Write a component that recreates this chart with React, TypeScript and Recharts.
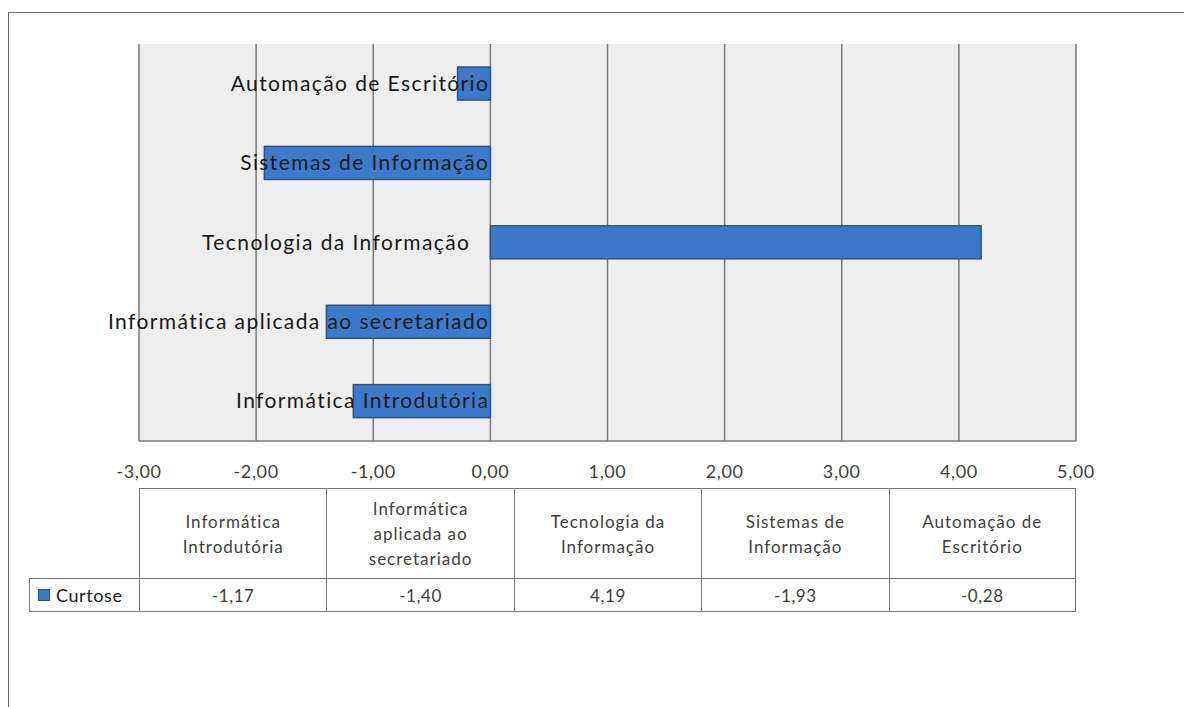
import React from 'react';
import { BarChart, Bar, XAxis, YAxis, CartesianGrid } from 'recharts';

const categories = [
  'Informática Introdutória',
  'Informática aplicada ao secretariado',
  'Tecnologia da Informação',
  'Sistemas de Informação',
  'Automação de Escritório',
];
const headerLines = [
  ['Informática', 'Introdutória'],
  ['Informática', 'aplicada ao', 'secretariado'],
  ['Tecnologia da', 'Informação'],
  ['Sistemas de', 'Informação'],
  ['Automação de', 'Escritório'],
];
const curtose = [-1.17, -1.4, 4.19, -1.93, -0.28];
const xTicks = [-3, -2, -1, 0, 1, 2, 3, 4, 5];
const seriesName = 'Curtose';

const data = categories.map((name, i) => ({ name, value: curtose[i] }));
const fmt = (v: number) => v.toFixed(2).replace('.', ',');

const W = 1184;
const H = 480;
const margin = { top: 36, right: 116, bottom: 7, left: 131 };
const BAR_FILL = '#3b7acb';
const BAR_STROKE = '#2b5286';
const GRID = '#7a7a7a';
const TEXT = '#404040';
const FONT = 'Lato, "Open Sans", sans-serif';

const BarWithLabel = (p: any) => {
  const { x, y, width, height, payload } = p;
  const left = Math.min(x, x + width);
  const w = Math.abs(width);
  const zero = payload.value >= 0 ? left : left + w;
  const labelX = payload.value >= 0 ? zero - 20 : zero - 1;
  return (
    <g>
      <rect x={left} y={y} width={w} height={height} fill={BAR_FILL} stroke={BAR_STROKE} strokeWidth={1.5} />
      <text
        x={labelX}
        y={y + height / 2}
        dy="0.35em"
        textAnchor="end"
        fontFamily={FONT}
        fontSize={21}
        letterSpacing={1.4}
        fill="#1a1a1a"
      >
        {payload.name}
      </text>
    </g>
  );
};

export default function App() {
  const plotLeft = margin.left;
  const plotW = W - margin.left - margin.right;
  const colW = plotW / categories.length;
  const tableTop = 480;
  const headerH = 90;
  const rowH = 34;
  const legendLeft = 21;
  const border = `1.5px solid ${GRID}`;

  return (
    <div style={{ position: 'relative', width: W, height: 699, fontFamily: FONT, overflow: 'hidden' }}>
      <div
        style={{
          position: 'absolute',
          left: 0,
          top: 4,
          width: W + 10,
          height: 720,
          borderLeft: '1.5px solid #6a6a6a',
          borderTop: '1.5px solid #6a6a6a',
          boxSizing: 'border-box',
        }}
      />
      <div style={{ position: 'absolute', left: 0, top: 0 }}>
        <BarChart width={W} height={H} data={data} layout="vertical" margin={margin} barCategoryGap="29%">
          <CartesianGrid horizontal={false} vertical={true} stroke={GRID} strokeWidth={1.5} fill="#eeeeee" fillOpacity={1} />
          <XAxis
            type="number"
            domain={[-3, 5]}
            ticks={xTicks}
            tickFormatter={fmt}
            height={40}
            axisLine={{ stroke: GRID, strokeWidth: 1.5 }}
            tickLine={false}
            tickMargin={18}
            tick={{ fill: TEXT, fontSize: 18, fontFamily: FONT, letterSpacing: 0.6 }}
            interval={0}
          />
          <YAxis type="category" dataKey="name" reversed hide width={0} />
          <Bar dataKey="value" name={seriesName} isAnimationActive={false} shape={BarWithLabel} />
        </BarChart>
      </div>

      {/* data table */}
      {headerLines.map((lines, i) => (
        <div
          key={'h' + i}
          style={{
            position: 'absolute',
            left: plotLeft + i * colW,
            top: tableTop,
            width: colW,
            height: headerH,
            borderLeft: border,
            borderTop: border,
            borderRight: i === headerLines.length - 1 ? border : undefined,
            boxSizing: 'border-box',
            display: 'flex',
            flexDirection: 'column',
            justifyContent: 'center',
            alignItems: 'center',
            color: TEXT,
            fontSize: 17,
            lineHeight: '25px',
            letterSpacing: 1,
          }}
        >
          {lines.map((l, j) => (
            <div key={j}>{l}</div>
          ))}
        </div>
      ))}
      <div
        style={{
          position: 'absolute',
          left: legendLeft,
          top: tableTop + headerH,
          width: plotLeft - legendLeft,
          height: rowH,
          border: border,
          borderRight: 'none',
          boxSizing: 'border-box',
          display: 'flex',
          alignItems: 'center',
          paddingLeft: 8,
          color: '#1a1a1a',
          fontSize: 18,
          letterSpacing: 0.6,
        }}
      >
        <span
          style={{
            display: 'inline-block',
            width: 10,
            height: 10,
            background: BAR_FILL,
            border: `1px solid ${BAR_STROKE}`,
            marginRight: 6,
          }}
        />
        {seriesName}
      </div>
      {curtose.map((v, i) => (
        <div
          key={'v' + i}
          style={{
            position: 'absolute',
            left: plotLeft + i * colW,
            top: tableTop + headerH,
            width: colW,
            height: rowH,
            borderLeft: border,
            borderTop: border,
            borderBottom: border,
            borderRight: i === curtose.length - 1 ? border : undefined,
            boxSizing: 'border-box',
            display: 'flex',
            justifyContent: 'center',
            alignItems: 'center',
            color: TEXT,
            fontSize: 17,
            letterSpacing: 0.6,
          }}
        >
          {fmt(v)}
        </div>
      ))}
    </div>
  );
}
